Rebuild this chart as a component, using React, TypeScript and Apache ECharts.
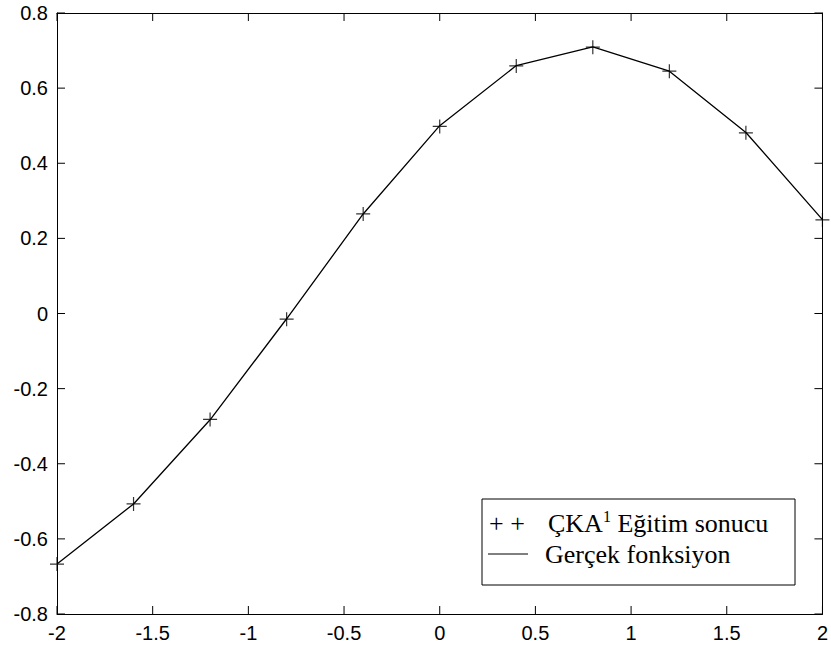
import React, { useEffect, useRef } from "react";
import * as echarts from "echarts";

const xValues = [-2, -1.6, -1.2, -0.8, -0.4, 0, 0.4, 0.8, 1.2, 1.6, 2];
const annOutput = [-0.667, -0.507, -0.282, -0.015, 0.265, 0.498, 0.659, 0.709, 0.645, 0.481, 0.249];
const trueFunction = [-0.667, -0.507, -0.283, -0.014, 0.265, 0.5, 0.66, 0.71, 0.645, 0.482, 0.25];
const xTicks = [-2, -1.5, -1, -0.5, 0, 0.5, 1, 1.5, 2];
const yTicks = [-0.8, -0.6, -0.4, -0.2, 0, 0.2, 0.4, 0.6, 0.8];
const legendAnn = "ÇKA";
const legendAnnSup = "1";
const legendAnnRest = " Eğitim sonucu";
const legendTrue = "Gerçek fonksiyon";

const X_MIN = -2;
const X_MAX = 2;
const Y_MIN = -0.8;
const Y_MAX = 0.8;
const TICK_LEN = 8;

export default function App() {
  const ref = useRef<HTMLDivElement>(null);
  useEffect(() => {
    const chart = echarts.init(ref.current!, null, { renderer: "svg" });
    const labelFont = { fontFamily: "Liberation Sans", fontSize: 20, color: "#000" };
    const serif = "Liberation Serif";
    const mkLine = () => ({ show: true, onZero: false, lineStyle: { color: "#000", width: 1 } });
    const tickStyle = { stroke: "#000", lineWidth: 1 };
    chart.setOption({
      animation: false,
      backgroundColor: "#fff",
      grid: { left: 57, right: 8, top: 13, bottom: 42 },
      xAxis: [
        {
          type: "value", min: X_MIN, max: X_MAX, interval: 0.5, position: "bottom",
          axisLine: mkLine(), axisTick: { show: false }, splitLine: { show: false },
          axisLabel: { ...labelFont, margin: 9 },
        },
        {
          type: "value", min: X_MIN, max: X_MAX, interval: 0.5, position: "top",
          axisLine: mkLine(), axisTick: { show: false }, splitLine: { show: false },
          axisLabel: { show: false },
        },
      ],
      yAxis: [
        {
          type: "value", min: Y_MIN, max: Y_MAX, interval: 0.2, position: "left",
          axisLine: mkLine(), axisTick: { show: false }, splitLine: { show: false },
          axisLabel: { ...labelFont, margin: 9 },
        },
        {
          type: "value", min: Y_MIN, max: Y_MAX, interval: 0.2, position: "right",
          axisLine: mkLine(), axisTick: { show: false }, splitLine: { show: false },
          axisLabel: { show: false },
        },
      ],
      series: [
        {
          type: "custom",
          silent: true,
          clip: false,
          xAxisIndex: 0,
          yAxisIndex: 0,
          data: xTicks.map((v) => [v, 0]),
          encode: { x: 0, y: 1 },
          renderItem: (params: any, api: any) => {
            const v = api.value(0);
            const b = api.coord([v, Y_MIN]);
            const t = api.coord([v, Y_MAX]);
            return {
              type: "group",
              children: [
                { type: "line", shape: { x1: b[0], y1: b[1], x2: b[0], y2: b[1] - TICK_LEN }, style: tickStyle },
                { type: "line", shape: { x1: t[0], y1: t[1], x2: t[0], y2: t[1] + TICK_LEN }, style: tickStyle },
              ],
            };
          },
          z: 1,
        },
        {
          type: "custom",
          silent: true,
          clip: false,
          xAxisIndex: 0,
          yAxisIndex: 0,
          data: yTicks.map((v) => [0, v]),
          encode: { x: 0, y: 1 },
          renderItem: (params: any, api: any) => {
            const v = api.value(1);
            const l = api.coord([X_MIN, v]);
            const r = api.coord([X_MAX, v]);
            return {
              type: "group",
              children: [
                { type: "line", shape: { x1: l[0], y1: l[1], x2: l[0] + TICK_LEN, y2: l[1] }, style: tickStyle },
                { type: "line", shape: { x1: r[0], y1: r[1], x2: r[0] - TICK_LEN, y2: r[1] }, style: tickStyle },
              ],
            };
          },
          z: 1,
        },
        {
          name: "Gerçek fonksiyon",
          type: "line",
          data: xValues.map((x, i) => [x, trueFunction[i]]),
          showSymbol: false,
          symbol: "none",
          lineStyle: { color: "#000", width: 1.3 },
          z: 2,
        },
        {
          name: "ÇKA Eğitim sonucu",
          type: "scatter",
          data: xValues.map((x, i) => [x, annOutput[i]]),
          symbol: "path://M0,5L10,5M5,0L5,10",
          symbolSize: 14,
          clip: false,
          itemStyle: { color: "none", borderColor: "#000", borderWidth: 1.2 },
          z: 3,
        },
      ],
      graphic: [
        {
          type: "rect",
          shape: { x: 482, y: 499, width: 313, height: 86 },
          style: { fill: "#fff", stroke: "#000", lineWidth: 1 },
          z: 10,
        },
        {
          type: "text", x: 489, y: 523, z: 11,
          style: { text: "+ +", fontFamily: serif, fontSize: 26, fill: "#000", verticalAlign: "middle" },
        },
        {
          type: "line", z: 11,
          shape: { x1: 488, y1: 554, x2: 528, y2: 554 },
          style: { stroke: "#000", lineWidth: 1 },
        },
        {
          type: "text", x: 548, y: 523, z: 11,
          style: {
            text: `{a|${legendAnn}}{s|${legendAnnSup}}{a|${legendAnnRest}}`,
            verticalAlign: "middle",
            rich: {
              a: { fontFamily: serif, fontSize: 26, fill: "#000", lineHeight: 30 },
              s: { fontFamily: serif, fontSize: 16, fill: "#000", lineHeight: 16, verticalAlign: "top" },
            },
          },
        },
        {
          type: "text", x: 545, y: 554, z: 11,
          style: { text: legendTrue, fontFamily: serif, fontSize: 26, fill: "#000", verticalAlign: "middle" },
        },
      ],
    });
    return () => chart.dispose();
  }, []);
  return (
    <div
      ref={ref}
      style={{ position: "fixed", left: 0, top: 0, width: 831, height: 656, background: "#fff" }}
    />
  );
}
